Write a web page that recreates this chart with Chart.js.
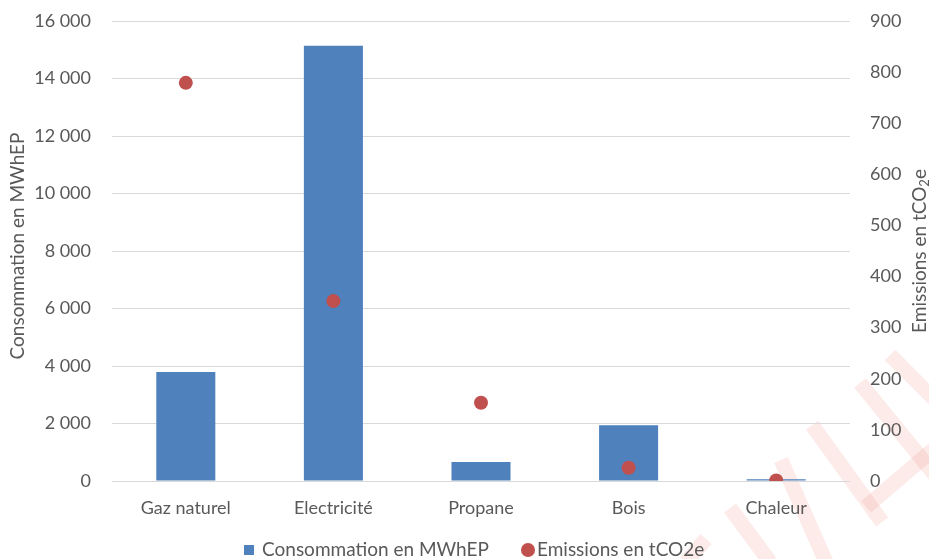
<!DOCTYPE html>
<html lang="fr">
<head>
<meta charset="utf-8">
<title>Consommation et émissions par énergie</title>
<script src="https://cdn.jsdelivr.net/npm/chart.js@4.4.1/dist/chart.umd.min.js"></script>
<style>
  html, body { margin: 0; padding: 0; background: #ffffff; }
  #wrap { width: 929px; height: 559px; position: relative; }
</style>
</head>
<body>
<div id="wrap"><canvas id="chart" width="929" height="559"></canvas></div>
<script>
// Energy sources
const categories = ['Gaz naturel', 'Electricité', 'Propane', 'Bois', 'Chaleur'];
// Consumption per source, MWhEP (left axis)
const consommation = [3790, 15140, 660, 1935, 60];
// Emissions per source, tCO2e (right axis)
const emissions = [779, 352, 153, 26, 1];
// Axis ticks
const consoTicks = [0, 2000, 4000, 6000, 8000, 10000, 12000, 14000, 16000];
const emissionTicks = [0, 100, 200, 300, 400, 500, 600, 700, 800, 900];

const seriesNames = ['Consommation en MWhEP', 'Emissions en tCO2e'];

const BLUE = '#4F81BD';
const RED = '#C0504D';
const TEXT = '#595959';
const GRID = '#D9D9D9';
const FONT = 'Lato, "Open Sans", sans-serif';

const fmt = v => String(v).replace(/\B(?=(\d{3})+(?!\d))/g, ' ');

// Faint diagonal strokes in the lower right corner (background decoration)
const decoration = [
  [[686, 562], [706, 539]],
  [[730, 508], [770, 562]],
  [[781, 460], [826, 562]],
  [[812, 425], [882, 522]],
  [[860, 383], [935, 475]],
  [[890, 355], [935, 400]],
  [[866, 507], [935, 448]]
];

const decorPlugin = {
  id: 'decor',
  beforeDraw(chart) {
    const ctx = chart.ctx;
    ctx.save();
    ctx.strokeStyle = 'rgba(235,120,105,0.15)';
    ctx.lineWidth = 15;
    ctx.lineCap = 'butt';
    decoration.forEach(seg => {
      ctx.beginPath();
      ctx.moveTo(seg[0][0], seg[0][1]);
      ctx.lineTo(seg[1][0], seg[1][1]);
      ctx.stroke();
    });
    ctx.restore();
  }
};

// Axis titles and legend
const annotPlugin = {
  id: 'annot',
  afterDraw(chart) {
    const ctx = chart.ctx;
    const area = chart.chartArea;
    const midY = (area.top + area.bottom) / 2;
    ctx.save();
    ctx.fillStyle = TEXT;
    ctx.textBaseline = 'middle';

    // Left axis title
    ctx.save();
    ctx.font = '19px ' + FONT;
    ctx.translate(18, midY - 5);
    ctx.rotate(-Math.PI / 2);
    ctx.textAlign = 'center';
    ctx.fillText('Consommation en MWhEP', 0, 0);
    ctx.restore();

    // Right axis title with subscript
    ctx.save();
    const main = '19px ' + FONT;
    const sub = '13px ' + FONT;
    const parts = [['Emissions en tCO', main, 0], ['2', sub, 5], ['e', main, 0]];
    let total = 0;
    parts.forEach(p => { ctx.font = p[1]; total += ctx.measureText(p[0]).width; });
    ctx.translate(920, midY);
    ctx.rotate(-Math.PI / 2);
    ctx.textAlign = 'left';
    let x = -total / 2;
    parts.forEach(p => {
      ctx.font = p[1];
      ctx.fillText(p[0], x, p[2]);
      x += ctx.measureText(p[0]).width;
    });
    ctx.restore();

    // Legend
    const ly = 550;
    ctx.font = '19px ' + FONT;
    ctx.textAlign = 'left';
    ctx.fillStyle = BLUE;
    ctx.fillRect(244, ly - 5, 10, 10);
    ctx.fillStyle = TEXT;
    ctx.fillText(seriesNames[0], 262, ly);
    ctx.fillStyle = RED;
    ctx.beginPath();
    ctx.arc(528, ly, 7, 0, Math.PI * 2);
    ctx.fill();
    ctx.fillStyle = TEXT;
    ctx.fillText(seriesNames[1], 537, ly);
    ctx.restore();
  }
};

new Chart(document.getElementById('chart'), {
  data: {
    labels: categories,
    datasets: [
      {
        type: 'bar',
        label: seriesNames[0],
        data: consommation,
        backgroundColor: BLUE,
        borderWidth: 0,
        yAxisID: 'y',
        categoryPercentage: 1,
        barPercentage: 0.4,
        order: 2
      },
      {
        type: 'line',
        label: seriesNames[1],
        data: emissions,
        showLine: false,
        yAxisID: 'y1',
        pointRadius: 7,
        pointHoverRadius: 7,
        pointBackgroundColor: RED,
        pointBorderWidth: 0,
        borderColor: RED,
        order: 1
      }
    ]
  },
  options: {
    responsive: false,
    animation: false,
    layout: { padding: { top: 21, bottom: 0, left: 0, right: 0 } },
    plugins: {
      legend: { display: false },
      tooltip: { enabled: false }
    },
    scales: {
      x: {
        grid: { display: false },
        border: { display: false },
        ticks: { color: TEXT, font: { size: 18, family: FONT }, padding: 8, maxRotation: 0 },
        afterFit: s => { s.height = 78; }
      },
      y: {
        position: 'left',
        min: 0, max: 16000,
        afterBuildTicks: s => { s.ticks = consoTicks.map(v => ({ value: v })); },
        grid: { color: GRID, lineWidth: 1, drawTicks: false },
        border: { display: false },
        ticks: { color: TEXT, font: { size: 18, family: FONT }, padding: 21, callback: v => fmt(v) },
        afterFit: s => { s.width = 112; s.paddingTop = 0; s.paddingBottom = 0; }
      },
      y1: {
        position: 'right',
        min: 0, max: 900,
        afterBuildTicks: s => { s.ticks = emissionTicks.map(v => ({ value: v })); },
        grid: { display: false, drawTicks: false },
        border: { display: false },
        ticks: { color: TEXT, font: { size: 18, family: FONT }, padding: 20, callback: v => fmt(v) },
        afterFit: s => { s.width = 79; s.paddingTop = 0; s.paddingBottom = 0; }
      }
    }
  },
  plugins: [decorPlugin, annotPlugin]
});
</script>
</body>
</html>
